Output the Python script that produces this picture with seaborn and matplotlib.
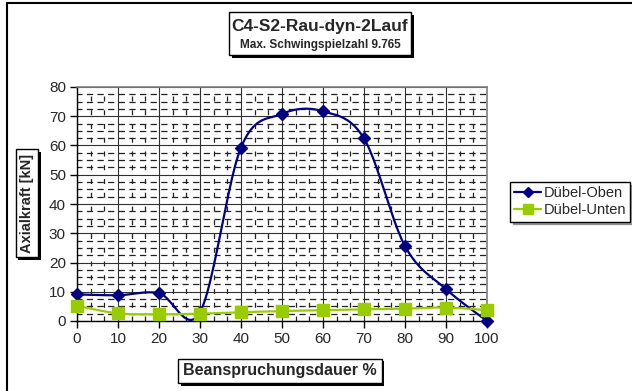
import numpy as np
import pandas as pd
import matplotlib
matplotlib.use("Agg")
import matplotlib.pyplot as plt
import seaborn as sns
from matplotlib.patches import Rectangle
from matplotlib.lines import Line2D
import matplotlib.patheffects as pe

sns.set_style("white")
plt.rcParams['font.family'] = ['Liberation Sans', 'DejaVu Sans']

# ---- data ----
dauer = [0, 10, 20, 30, 40, 50, 60, 70, 80, 90, 100]
oben = [9.1, 8.8, 9.5, 3.0, 59.3, 70.8, 71.7, 62.4, 25.6, 10.9, 0.0]
unten = [5.2, 2.6, 2.3, 2.5, 3.0, 3.4, 3.7, 4.0, 4.2, 4.6, 3.7]
series_names = ["Dübel-Oben", "Dübel-Unten"]
title = "C4-S2-Rau-dyn-2Lauf"
subtitle = "Max. Schwingspielzahl 9.765"
xlabel = "Beanspruchungsdauer %"
ylabel = "Axialkraft [kN]"
colors = ["#000080", "#99CC00"]


def excel_smooth(x, y, n=24):
    x = np.asarray(x, float); y = np.asarray(y, float)
    P = np.column_stack([x, y])
    out = []
    m = len(P)
    t = np.linspace(0, 1, n)[:, None]
    for i in range(m - 1):
        p0 = P[i - 1] if i > 0 else P[i]
        p1 = P[i]; p2 = P[i + 1]
        p3 = P[i + 2] if i + 2 < m else P[i + 1]
        c1 = p1 + (p2 - p0) / 6.0
        c2 = p2 - (p3 - p1) / 6.0
        seg = ((1 - t) ** 3) * p1 + 3 * ((1 - t) ** 2) * t * c1 + 3 * (1 - t) * t ** 2 * c2 + t ** 3 * p2
        out.append(seg if i == 0 else seg[1:])
    s = np.vstack(out)
    return s[:, 0], s[:, 1]


W, H = 632, 391
fig = plt.figure(figsize=(W / 100, H / 100), dpi=100)
L, R, T, B = 77, 487, 87, 321
ax = fig.add_axes([L / W, 1 - B / H, (R - L) / W, (B - T) / H])

# pattern-like dashed minor grid
ax.set_xticks(np.arange(0, 101, 10))
ax.set_yticks(np.arange(0, 81, 10))
xminor = [v for v in np.arange(0, 100.01, 10 / 3) if abs(v / 10 - round(v / 10)) > 1e-6]
yminor = [v for v in np.arange(0, 80.01, 2.5) if v % 10 != 0]
ax.set_xticks(xminor, minor=True)
ax.set_yticks(yminor, minor=True)
ax.grid(which='major', color='#303030', linewidth=0.8, linestyle='-')
ax.grid(which='minor', axis='y', color='#202020', linewidth=0.9, linestyle=(1, (5, 3.5)))
ax.grid(which='minor', axis='x', color='#202020', linewidth=0.9, linestyle=(0, (4, 7)))
ax.set_axisbelow(True)

for name, vals, col, mk, ms in [(series_names[0], oben, colors[0], 'D', 6.5),
                                 (series_names[1], unten, colors[1], 's', 8)]:
    sx, sy = excel_smooth(dauer, vals)
    sm = pd.DataFrame({"x": sx, "y": sy})
    sns.lineplot(data=sm, x="x", y="y", ax=ax, color=col, linewidth=1.6,
                 sort=False, estimator=None, zorder=3, clip_on=False)
    pts = pd.DataFrame({"x": dauer, "y": vals})
    ax.plot(pts["x"], pts["y"], linestyle='none', marker=mk, markersize=ms,
            color=col, markeredgecolor=col, zorder=4, clip_on=False)

ax.set_xlim(0, 100)
ax.set_ylim(0, 80)
ax.set_xlabel("")
ax.set_ylabel("")
for s in ['top', 'right']:
    ax.spines[s].set_color('#808080')
    ax.spines[s].set_linewidth(1.2)
for s in ['left', 'bottom']:
    ax.spines[s].set_color('black')
    ax.spines[s].set_linewidth(1.0)
ax.tick_params(which='major', direction='out', length=5, width=1, color='black',
               labelsize=11, pad=3, bottom=True, left=True)
ax.tick_params(which='minor', length=0)

# outer frame
fig.add_artist(Line2D([7 / W, 7 / W], [0, 1 - 3 / H], transform=fig.transFigure, color='black', lw=1.5))
fig.add_artist(Line2D([7 / W, 1], [1 - 3 / H, 1 - 3 / H], transform=fig.transFigure, color='black', lw=1.5))

shadow = [pe.SimplePatchShadow(offset=(2, -2), shadow_rgbFace='black', alpha=1.0), pe.Normal()]

# title box
tx0, tx1, ty0, ty1 = 229, 411, 12, 55
rect = Rectangle((tx0 / W, 1 - ty1 / H), (tx1 - tx0) / W, (ty1 - ty0) / H, transform=fig.transFigure,
                 facecolor='white', edgecolor='black', linewidth=1.0)
rect.set_path_effects(shadow)
fig.add_artist(rect)
fig.text((tx0 + tx1) / 2 / W, 1 - 27 / H, title, ha='center', va='center', fontsize=12.5, fontweight='bold')
fig.text((tx0 + tx1) / 2 / W, 1 - 45 / H, subtitle, ha='center', va='center', fontsize=8.5, fontweight='bold')

# axis labels with boxes
yl = fig.text(27 / W, 1 - 203 / H, ylabel, rotation=90, ha='center', va='center', fontsize=10.5, fontweight='bold',
              bbox=dict(boxstyle='square,pad=0.3', fc='white', ec='black', lw=1.0))
yl.get_bbox_patch().set_path_effects(shadow)
xl = fig.text(280 / W, 1 - 371 / H, xlabel, ha='center', va='center', fontsize=11.5, fontweight='bold',
              bbox=dict(boxstyle='square,pad=0.3', fc='white', ec='black', lw=1.0))
xl.get_bbox_patch().set_path_effects(shadow)

handles = [Line2D([], [], color=colors[0], marker='D', markersize=5.5, lw=1.6),
           Line2D([], [], color=colors[1], marker='s', markersize=7, lw=1.6)]
leg = fig.legend(handles, series_names, loc='upper left', bbox_to_anchor=(510 / W, 1 - 182 / H),
                 frameon=True, fancybox=False, shadow=True, edgecolor='black', fontsize=10.5,
                 handlelength=1.8, handletextpad=0.2, borderpad=0.3, labelspacing=0.2, borderaxespad=0)
leg.get_frame().set_linewidth(1.0)

fig.savefig("out.png", dpi=100)
